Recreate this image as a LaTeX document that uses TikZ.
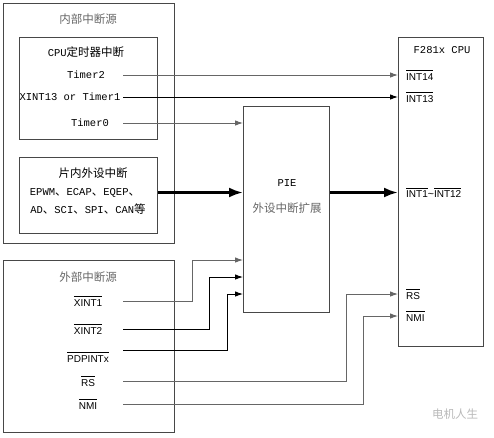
\documentclass[tikz,border=0pt]{standalone}
\usepackage{fontspec}
\usepackage{tikz}
\usetikzlibrary{arrows.meta, positioning, calc}
\newfontfamily\cjk{Noto Sans CJK SC}
\newfontfamily\monofnt{Liberation Mono}
\newfontfamily\sansfnt{Liberation Sans}
\definecolor{lineGray}{gray}{0.4}
\definecolor{boxGray}{gray}{0.28}
\definecolor{titleGray}{gray}{0.4}
\newcommand{\zh}[1]{{\fontsize{11.5}{13}\cjk #1}}
\newcommand{\ovl}[1]{$\overline{\hbox{\rule{0pt}{8.6pt}\fontsize{10}{12}\sansfnt #1}}$}

\begin{document}
\begin{tikzpicture}[x=1pt, y=-1pt,
    box/.style={draw=boxGray, line width=1pt, anchor=north west, inner sep=0pt},
    lbl/.style={font=\fontsize{10.5}{12}\monofnt, inner sep=1pt},
    sig/.style={line width=0.9pt, -{Latex[length=8pt,width=5.5pt]}},
    bus/.style={line width=2.6pt, -{Latex[length=14pt,width=10pt]}}]
    \useasboundingbox (0,0) rectangle (494,437);
    % boxes
    \node[box, minimum width=171pt, minimum height=240pt] (intsrc) at (3,3) {};
    \node[box, minimum width=138pt, minimum height=102pt] (timers) at (19,37) {};
    \node[box, minimum width=138pt, minimum height=76pt] (periph) at (19,157) {};
    \node[box, minimum width=86pt, minimum height=206pt] (pie) at (243,106) {};
    \node[box, minimum width=85pt, minimum height=309pt] (cpu) at (398,37) {};
    \node[box, minimum width=171pt, minimum height=172pt] (extsrc) at (3,260) {};
    % internal sources
    \node[lbl, text=titleGray] (intT) at (88,19) {\zh{内部中断源}};
    \node[lbl] (timT) at (86,52) {CPU\zh{定时器中断}};
    \node[lbl] (t2) at (86,75) {Timer2};
    \node[lbl] (t1) at (70,97) {XINT13 or Timer1};
    \node[lbl] (t0) at (90,123) {Timer0};
    \node[lbl] (perT) at (93,173) {\zh{片内外设中断}};
    \node[lbl] (per1) at (85,193) {EPWM\zh{、}ECAP\zh{、}EQEP\zh{、}};
    \node[lbl] (per2) at (88,209) {AD\zh{、}SCI\zh{、}SPI\zh{、}CAN\zh{等}};
    % PIE and CPU
    \node[lbl] (pieT) at (287,183) {PIE};
    \node[lbl, text=titleGray] (pieS) at (287,208) {\zh{外设中断扩展}};
    \node[lbl] (cpuT) at (442,50) {F281x CPU};
    % external sources
    \node[lbl, text=titleGray] (extT) at (88,277) {\zh{外部中断源}};
    \node[lbl] (x1) at (88,301) {\ovl{XINT1}};
    \node[lbl] (x2) at (88,329) {\ovl{XINT2}};
    \node[lbl] (pd) at (88,357) {\ovl{PDPINTx}};
    \node[lbl] (rs) at (88,381) {\ovl{RS}};
    \node[lbl] (nm) at (88,404) {\ovl{NMI}};
    \node[lbl, text=gray!55] (wm) at (455,414) {\zh{电机人生}};
    % connectors
    \coordinate (src) at (123,0);
    \coordinate (busy) at ([yshift=3pt]periph.east);
    \draw[sig, lineGray] (t2 -| src) -- (cpu.west |- t2);
    \draw[sig] (t1 -| src) -- (cpu.west |- t1);
    \draw[sig, lineGray] (t0 -| src) -- (pie.west |- t0);
    \draw[bus] (busy) -- (pie.west |- busy);
    \draw[bus] (pie.east |- busy) -- (cpu.west |- busy);
    \foreach \s/\a/\c/\bx/\by in {x1/center/lineGray/192/260, x2/center/black/209/277, pd/north/black/227/294} {
        \coordinate (k-\s) at (\bx,\by);
        \draw[sig, \c] (\s.\a -| src) -| (k-\s) -- (k-\s -| pie.west);
    }
    \foreach \s/\bx/\by in {rs/346/294, nm/363/316} {
        \coordinate (k-\s) at (\bx,\by);
        \draw[sig, lineGray] (\s -| src) -| (k-\s) -- (k-\s -| cpu.west);
    }
    % CPU inputs
    \node[lbl, anchor=west] (i14) at ([xshift=7pt]cpu.west |- t2) {\ovl{INT14}};
    \node[lbl, anchor=west] (i13) at ([xshift=7pt]cpu.west |- t1) {\ovl{INT13}};
    \node[lbl, anchor=west] (i1) at ([xshift=7pt]cpu.west |- busy) {\ovl{INT1}{\sansfnt\textasciitilde}\ovl{INT12}};
    \node[lbl, anchor=west] (crs) at ([xshift=7pt]k-rs -| cpu.west) {\ovl{RS}};
    \node[lbl, anchor=west] (cnm) at ([xshift=7pt]k-nm -| cpu.west) {\ovl{NMI}};
\end{tikzpicture}
\end{document}
